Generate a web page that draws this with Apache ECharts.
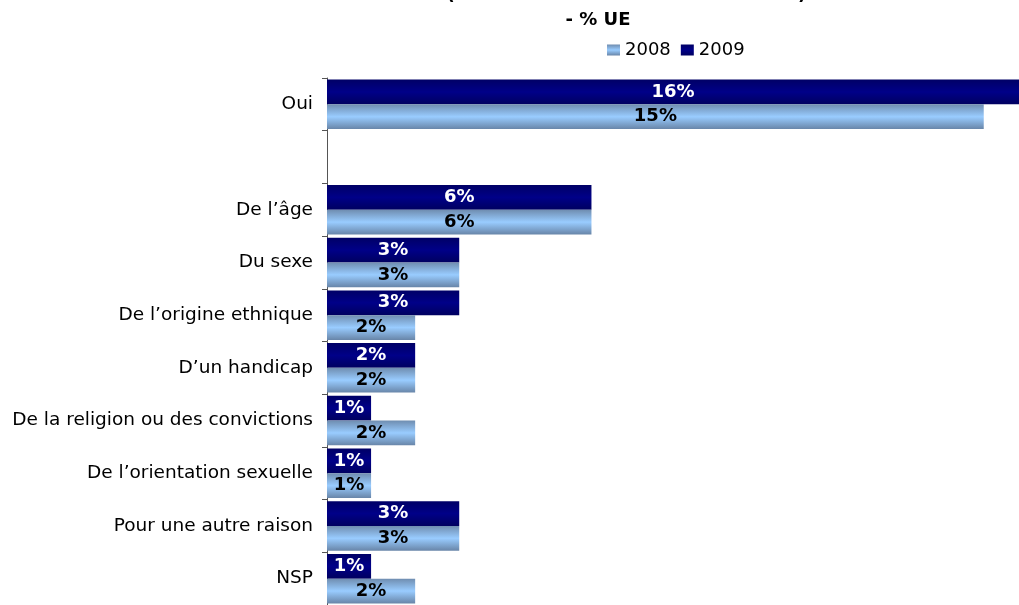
<!DOCTYPE html>
<html><head><meta charset="utf-8">
<script src="https://cdn.jsdelivr.net/npm/echarts@6/dist/echarts.min.js"></script>
<style>html,body{margin:0;padding:0;background:#fff}#c{width:1019px;height:605px}</style>
</head><body><div id="c"></div>
<script>
const categories = ['Oui', '', 'De l’âge', 'Du sexe', 'De l’origine ethnique', 'D’un handicap', 'De la religion ou des convictions', 'De l’orientation sexuelle', 'Pour une autre raison', 'NSP'];
const values2008 = [14.9, null, 6, 3, 2, 2, 2, 1, 3, 2];
const values2009 = [16, null, 6, 3, 3, 2, 1, 1, 3, 1];
const titleLine1 = 'Situation (PLUSIEURS RÉPONSES POSSIBLES)';
const titleLine2 = '- % UE';

const font = 'DejaVu Sans';
const chart = echarts.init(document.getElementById('c'), null, {renderer: 'canvas'});
const grad = (a, b, c) => ({type: 'linear', x: 0, y: 0, x2: 0, y2: 1,
  colorStops: [{offset: 0, color: a}, {offset: 0.5, color: b}, {offset: 1, color: c}]});
chart.setOption({
  animation: false,
  title: [
    {text: titleLine1, left: 572, top: -19, textAlign: 'center', textStyle: {fontFamily: font, fontSize: 18, fontWeight: 'bold', color: '#000'}},
    {text: titleLine2, left: 593, top: 6, textAlign: 'center', textStyle: {fontFamily: font, fontSize: 18, fontWeight: 'bold', color: '#000'}}
  ],
  legend: {
    data: ['2008', '2009'], left: 602, top: 36, itemWidth: 13, itemHeight: 11, itemGap: 10,
    icon: 'rect', textStyle: {fontFamily: font, fontSize: 18, color: '#000'}
  },
  grid: {left: 327, top: 78, right: 0, height: 530, containLabel: false},
  xAxis: {type: 'value', min: 0, max: 15.7, show: false},
  yAxis: {
    type: 'category', data: categories, inverse: true,
    axisLine: {lineStyle: {color: '#555', width: 1}},
    axisTick: {show: true, length: 5, lineStyle: {color: '#555'}},
    axisLabel: {fontFamily: font, fontSize: 18.5, color: '#000', margin: 14}
  },
  series: [
    {name: '2009', type: 'bar', data: values2009, barGap: '0%', barCategoryGap: '6%',
      itemStyle: {color: grad('#000066', '#000088', '#000060')},
      label: {show: true, position: 'inside', formatter: p => Math.round(p.value) + '%',
        fontFamily: font, fontSize: 18, fontWeight: 'bold', color: '#fff'}},
    {name: '2008', type: 'bar', data: values2008,
      itemStyle: {color: grad('#6f8db0', '#99ccff', '#6885a8')},
      label: {show: true, position: 'inside', formatter: p => Math.round(p.value) + '%',
        fontFamily: font, fontSize: 18, fontWeight: 'bold', color: '#000'}}
  ]
});
</script></body></html>
